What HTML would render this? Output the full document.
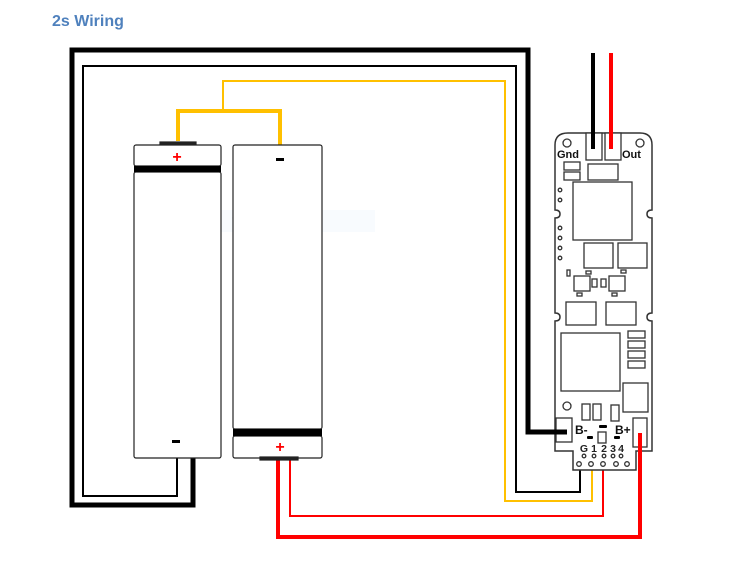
<!DOCTYPE html>
<html><head><meta charset="utf-8"><style>
html,body{margin:0;padding:0;background:#fff;}
svg{display:block;}
</style></head><body>
<svg width="753" height="582" viewBox="0 0 753 582" xmlns="http://www.w3.org/2000/svg">
<text x="52" y="26" font-family="Liberation Sans, sans-serif" font-weight="bold" font-size="16" fill="#4F81BD">2s Wiring</text>
<rect x="203" y="210" width="172" height="22" fill="#f8fbfe"/>
<text x="232" y="225" font-family="Liberation Sans, sans-serif" font-size="11" fill="#e4e8ee">Window Snip</text>

<polyline points="193,458 193,505 72,505 72,50 528,50 528,432 572,432" fill="none" stroke="#000" stroke-width="5"/>
<polyline points="177,458 177,496 83,496 83,66 516,66 516,492 580,492 580,464" fill="none" stroke="#000" stroke-width="2"/>
<polyline points="178,141 178,111 280,111 280,146" fill="none" stroke="#FFC000" stroke-width="4"/>
<polyline points="223,111 223,81 505,81 505,501 592,501 592,464" fill="none" stroke="#FFC000" stroke-width="2"/>
<polyline points="278,458 278,537 640,537 640,433" fill="none" stroke="#f00" stroke-width="4"/>
<polyline points="290,458 290,516 603,516 603,464 627,464" fill="none" stroke="#f00" stroke-width="2"/>
<line x1="593" y1="53" x2="593" y2="149" stroke="#000" stroke-width="4"/>
<line x1="611" y1="53" x2="611" y2="149" stroke="#f00" stroke-width="4"/>

<g fill="#fff" stroke="#222" stroke-width="1.2">
<rect x="160" y="142" width="36" height="4" fill="#222"/>
<rect x="134" y="145" width="87" height="21" rx="2"/>
<rect x="134" y="172" width="87" height="286" rx="2"/>
</g>
<rect x="134" y="166" width="87" height="6" fill="#000"/>
<text x="177" y="162" text-anchor="middle" font-family="Liberation Sans,sans-serif" font-weight="bold" font-size="16" fill="#f00">+</text>
<rect x="172" y="440" width="8" height="3" fill="#000"/>
<g fill="#fff" stroke="#222" stroke-width="1.2">
<rect x="233" y="145" width="89" height="284" rx="2"/>
<rect x="233" y="436" width="89" height="22" rx="2"/>
<rect x="260" y="457" width="38" height="3" fill="#222"/>
</g>
<rect x="233" y="429" width="89" height="7" fill="#000"/>
<rect x="276" y="158" width="8" height="3" fill="#000"/>
<text x="280" y="452" text-anchor="middle" font-family="Liberation Sans,sans-serif" font-weight="bold" font-size="16" fill="#f00">+</text>

<path d="M568,133 H640 Q652,133 652,145 V210 Q647,210 647,214 Q647,218 652,218 V313 Q647,313 647,317 Q647,321 652,321 V451 H636 V470 H573 V451 H555 V321 Q560,321 560,317 Q560,313 555,313 V218 Q560,218 560,214 Q560,210 555,210 V145 Q555,133 568,133 Z" fill="#fff" stroke="#333" stroke-width="1.5"/>
<g fill="none" stroke="#333" stroke-width="1.3">
<rect x="586" y="133" width="16" height="27" fill="#fff"/>
<rect x="605" y="133" width="16" height="27" fill="#fff"/>
<circle cx="567" cy="143" r="4"/>
<circle cx="640" cy="143" r="4"/>
<rect x="564" y="162" width="16" height="8"/>
<rect x="564" y="172" width="16" height="8"/>
<rect x="588" y="164" width="30" height="16"/>
<rect x="573" y="182" width="59" height="58"/>
<circle cx="560" cy="190" r="1.8"/><circle cx="560" cy="200" r="1.8"/>
<circle cx="560" cy="228" r="1.8"/><circle cx="560" cy="238" r="1.8"/>
<circle cx="560" cy="248" r="1.8"/><circle cx="560" cy="258" r="1.8"/>
<rect x="584" y="243" width="29" height="25"/>
<rect x="618" y="243" width="29" height="25"/>
<rect x="567" y="270" width="3" height="6"/>
<rect x="586" y="271" width="5" height="3"/>
<rect x="621" y="270" width="5" height="3"/>
<rect x="574" y="276" width="16" height="15"/>
<rect x="609" y="276" width="16" height="15"/>
<rect x="592" y="279" width="5" height="8"/>
<rect x="601" y="279" width="5" height="8"/>
<rect x="577" y="293" width="5" height="3"/>
<rect x="612" y="293" width="5" height="3"/>
<rect x="566" y="302" width="30" height="23"/>
<rect x="606" y="302" width="30" height="23"/>
<rect x="561" y="333" width="59" height="58"/>
<rect x="628" y="331" width="17" height="7"/>
<rect x="628" y="341" width="17" height="7"/>
<rect x="628" y="351" width="17" height="7"/>
<rect x="628" y="361" width="17" height="7"/>
<rect x="623" y="383" width="25" height="29"/>
<circle cx="567" cy="406" r="4"/>
<rect x="582" y="404" width="8" height="16"/>
<rect x="593" y="404" width="8" height="16"/>
<rect x="611" y="405" width="8" height="16"/>
<rect x="556" y="418" width="16" height="24" fill="#fff"/>
<rect x="633" y="418" width="14" height="29" fill="#fff"/>
<rect x="598" y="432" width="8" height="11"/>
<circle cx="584" cy="456" r="1.8"/><circle cx="594" cy="456" r="1.8"/><circle cx="604" cy="456" r="1.8"/><circle cx="613" cy="456" r="1.8"/><circle cx="621" cy="456" r="1.8"/>
<circle cx="579" cy="464" r="2.3"/><circle cx="591" cy="464" r="2.3"/><circle cx="603" cy="464" r="2.3"/><circle cx="616" cy="464" r="2.3"/><circle cx="627" cy="464" r="2.3"/>
</g>
<rect x="599" y="425" width="8" height="3" fill="#000" rx="1"/>
<rect x="587" y="436" width="6" height="3" fill="#000" rx="1"/>
<rect x="614" y="436" width="6" height="3" fill="#000" rx="1"/>
<g font-family="Liberation Sans,sans-serif" font-weight="bold" fill="#111">
<text x="557" y="158" font-size="11">Gnd</text>
<text x="622" y="158" font-size="11">Out</text>
<text x="575" y="434" font-size="12">B-</text>
<text x="615" y="434" font-size="12">B+</text>
</g>
<g font-family="Liberation Sans,sans-serif" font-size="10.5" font-weight="bold" fill="#222" text-anchor="middle">
<text x="584" y="452">G</text><text x="594" y="452">1</text><text x="604" y="452">2</text><text x="613" y="452">3</text><text x="621" y="452">4</text>
</g>
<line x1="593" y1="130" x2="593" y2="149" stroke="#000" stroke-width="4"/>
<line x1="611" y1="130" x2="611" y2="149" stroke="#f00" stroke-width="4"/>
<line x1="540" y1="432" x2="567" y2="432" stroke="#000" stroke-width="5"/>
<line x1="640" y1="433" x2="640" y2="470" stroke="#f00" stroke-width="4"/>
</svg>
</body></html>
